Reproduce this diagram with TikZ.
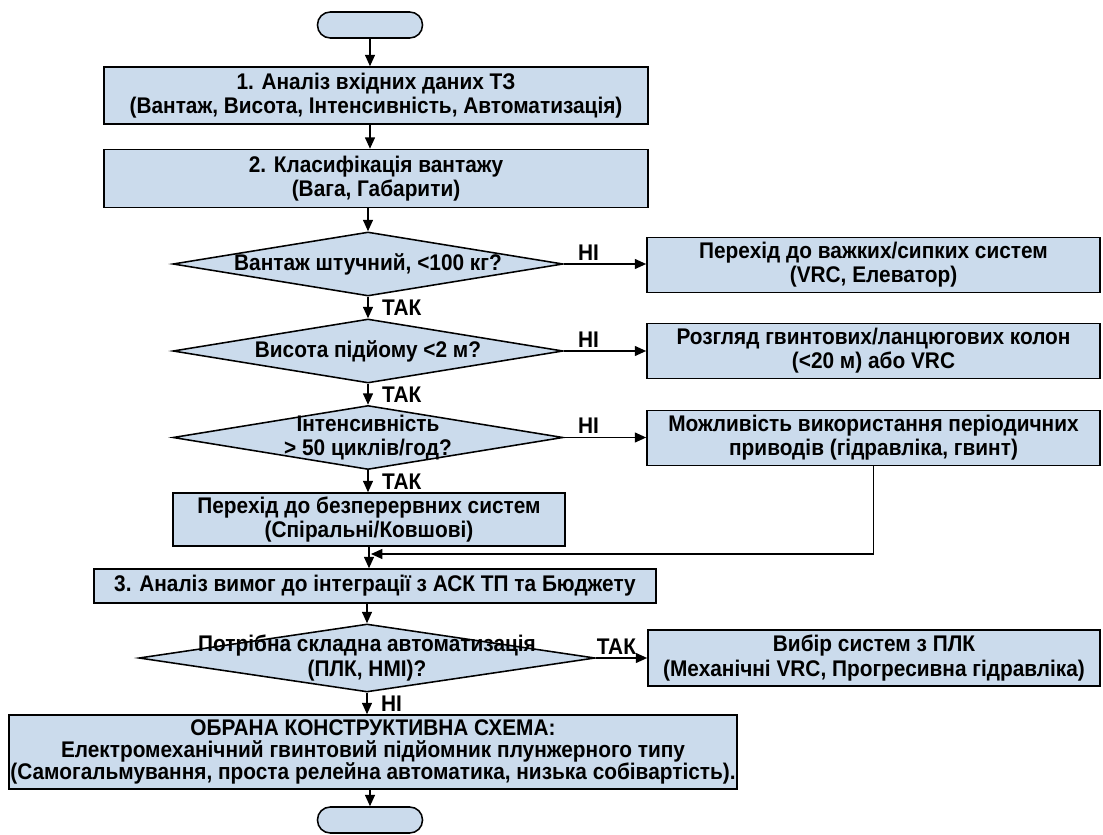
\documentclass[tikz,border=0pt]{standalone}
\usepackage{fontspec}
\setmainfont[FakeStretch=0.92]{Liberation Sans}
\usetikzlibrary{arrows.meta,positioning,shapes.geometric,calc}
\definecolor{boxfill}{RGB}{203,219,236}

\begin{document}
\begin{tikzpicture}[x=0.025cm,y=-0.025cm,
  every node/.style={font=\fontsize{16.1}{17.2}\selectfont\bfseries, align=center},
  block/.style={draw, line width=1.1pt, fill=boxfill, inner sep=0pt},
  sidebox/.style={block, minimum width=11.325cm, minimum height=1.375cm},
  decision/.style={draw, line width=1.1pt, fill=boxfill, diamond, inner sep=0pt,
    minimum width=9.75cm, minimum height=1.6cm},
  term/.style={draw, line width=1.1pt, fill=boxfill, rectangle, rounded corners=0.32cm,
    minimum width=2.625cm, minimum height=0.65cm},
  flow/.style={draw, line width=1pt, -{Triangle[length=8pt,width=7pt]}},
  yes/.style={right, inner sep=1pt, xshift=0.3cm},
  no/.style={above, inner sep=2pt, pos=0.3}]
\useasboundingbox[fill=white] (0,0) rectangle (1103,834);

% main column
\node[term] (start) at (370,25) {};
\node[block, minimum width=13.6cm, minimum height=1.425cm] (an1) at (376,95.5)
  {1. Аналіз вхідних даних ТЗ\\(Вантаж, Висота, Інтенсивність, Автоматизація)};
\node[block, minimum width=13.6cm, minimum height=1.45cm] (an2) at (376,178.5)
  {2. Класифікація вантажу\\(Вага, Габарити)};
\node[decision] (q1) at (368,264) {};
\node (q1t) at (q1) {Вантаж штучний, <100 кг?};
\node[decision] (q2) at (368,351) {};
\node (q2t) at (q2) {Висота підйому <2 м?};
\node[decision] (q3) at (368,437.5) {};
\node (q3t) at (q3) {Інтенсивність\\> 50 циклів/год?};
\node[block, minimum width=9.8cm, minimum height=1.325cm] (cont) at (369,519.5)
  {Перехід до безперервних систем\\(Спіральні/Ковшові)};
\node[block, minimum width=14.05cm, minimum height=0.85cm] (an3) at (375,586)
  {3. Аналіз вимог до інтеграції з АСК ТП та Бюджету};
\node[decision, minimum width=11.4cm, minimum height=1.7cm] (q4) at (367,658) {};
\node (q4t) at (q4) {Потрібна складна автоматизація\\(ПЛК, НМІ)?};
\node[block, minimum width=18.2cm, minimum height=1.85cm, font=\fontsize{16.1}{15.6}\selectfont\bfseries] (res) at (373,752)
  {ОБРАНА КОНСТРУКТИВНА СХЕМА:\\Електромеханічний гвинтовий підйомник плунжерного типу\\(Самогальмування, проста релейна автоматика, низька собівартість).};
\node[term] (stop) at (370,820) {};

% side column
\node[sidebox] (r1) at (873.5,265) {Перехід до важких/сипких систем\\(VRC, Елеватор)};
\node[sidebox] (r2) at (873.5,351) {Розгляд гвинтових/ланцюгових колон\\(<20 м) або VRC};
\node[sidebox] (r3) at (873.5,438) {Можливість використання періодичних\\приводів (гідравліка, гвинт)};
\node[block, minimum width=11.3cm, minimum height=1.4cm] (plc) at (874,658)
  {Вибір систем з ПЛК\\(Механічні VRC, Прогресивна гідравліка)};

% connectors
\draw[flow] (start.south) -- (start.south |- an1.north);
\draw[flow] (start.south |- an1.south) -- (start.south |- an2.north);
\draw[flow] (an2.south -| q1.north) -- (q1.north);
\draw[flow] (q1.south) -- node[yes] {ТАК} (q2.north);
\draw[flow] (q2.south) -- node[yes] {ТАК} (q3.north);
\draw[flow] (q3.south) -- node[yes] {ТАК} (q3.south |- cont.north);
\draw[flow] (q1.east) -- node[no] {НІ} (q1.east -| r1.west);
\draw[flow] (q2.east) -- node[no] {НІ} (q2.east -| r2.west);
\draw[flow] (q3.east) -- node[no] {НІ} (q3.east -| r3.west);
\draw[flow] (cont.south) -- (cont.south |- an3.north);
\coordinate (merge) at ($(cont.south |- 0,554)+(2,0)$);
\draw[flow] (r3.south) |- (merge);
\draw[flow] (an3.south -| q4.north) -- (q4.north);
\draw[flow] (q4.east) -- node[above, inner sep=2pt, pos=0.4] {ТАК} (q4.east -| plc.west);
\draw[flow] (q4.south) -- node[yes] {НІ} (q4.south |- res.north);
\draw[flow] (res.south -| stop.north) -- (stop.north);
\end{tikzpicture}
\end{document}
